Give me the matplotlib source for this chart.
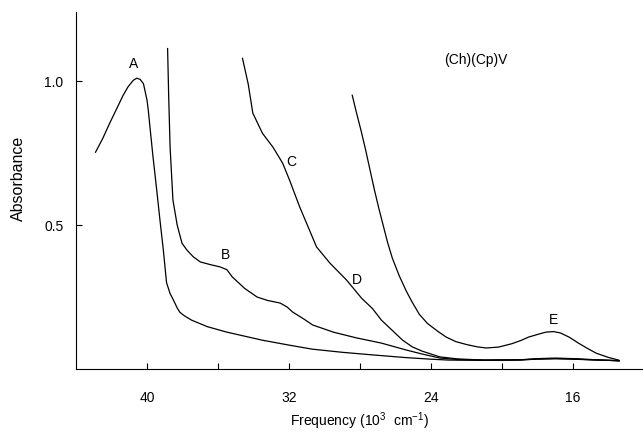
import matplotlib
matplotlib.use("Agg")
import matplotlib.pyplot as plt

plt.rcParams['font.family'] = ['Liberation Sans', 'DejaVu Sans']
plt.rcParams['mathtext.fontset'] = 'custom'
plt.rcParams['mathtext.rm'] = 'Liberation Sans'
plt.rcParams['mathtext.it'] = 'Liberation Sans:italic'

# Curve A
xA = [42.9, 42.5, 42.1, 41.7, 41.35, 41.07, 40.77, 40.58, 40.39, 40.2, 40.0, 39.93, 39.8, 39.66,
      39.45, 39.27, 39.08, 38.9, 38.7, 38.5, 38.3, 38.15, 37.9, 37.5, 36.6,
      35.5, 33.5, 32.0, 30.7, 29.0, 27.3, 25.5, 24.0, 23.0, 21.0, 19.0, 18.0, 17.0, 16.0, 15.0, 14.0, 13.4]
yA = [0.753, 0.80, 0.854, 0.905, 0.950, 0.98, 1.003, 1.01, 1.006, 0.991, 0.934, 0.90, 0.82, 0.736,
      0.62, 0.517, 0.413, 0.30, 0.262, 0.238, 0.212, 0.197, 0.185, 0.170, 0.147,
      0.128, 0.10, 0.083, 0.069, 0.058, 0.049, 0.040, 0.034, 0.031, 0.030, 0.031, 0.035, 0.036, 0.035, 0.032, 0.030, 0.028]

# Curve B
xB = [38.84, 38.78, 38.7, 38.54, 38.3, 38.03, 37.75, 37.4, 37.0, 36.4, 35.9, 35.5, 35.2, 34.5, 33.8,
      33.2, 32.5, 32.1, 31.8, 31.2, 30.67, 29.5, 28.2, 26.8, 25.4, 24.5, 23.5, 22.5, 21.0, 19.0, 18.0,
      17.0, 16.0, 15.0, 14.0, 13.4]
yB = [1.113, 0.95, 0.771, 0.587, 0.50, 0.437, 0.413, 0.39, 0.372, 0.362, 0.355, 0.345, 0.32, 0.28, 0.25,
      0.238, 0.229, 0.215, 0.198, 0.175, 0.153, 0.128, 0.108, 0.09, 0.066, 0.052, 0.038, 0.033, 0.031, 0.032, 0.036,
      0.038, 0.036, 0.033, 0.030, 0.029]

# Curve C/D
xC = [34.62, 34.3, 34.04, 33.5, 32.9, 32.36, 31.97, 31.4, 30.9, 30.45, 29.7, 28.76, 27.9, 27.3, 26.8,
      26.2, 25.6, 25.06, 24.5, 23.5, 22.5, 21.0, 19.0, 17.0, 15.0, 13.4]
yC = [1.079, 0.99, 0.889, 0.819, 0.77, 0.715, 0.656, 0.563, 0.49, 0.424, 0.368, 0.309, 0.245, 0.21, 0.17,
      0.135, 0.10, 0.077, 0.062, 0.042, 0.035, 0.031, 0.032, 0.036, 0.032, 0.029]

# Curve E
xE = [28.44, 28.2, 27.95, 27.7, 27.45, 27.2, 26.95, 26.7, 26.45, 26.18, 25.8, 25.39, 25.06, 24.66, 24.2, 23.6,
      23.15, 22.6, 22.0, 21.4, 20.9, 20.2, 19.44, 18.9, 18.5, 18.0, 17.53, 17.1, 16.7, 16.2, 15.7, 15.2,
      14.7, 14.0, 13.43]
yE = [0.951, 0.89, 0.83, 0.765, 0.695, 0.625, 0.56, 0.50, 0.44, 0.385, 0.325, 0.27, 0.232, 0.19, 0.158, 0.13,
      0.111, 0.095, 0.085, 0.077, 0.073, 0.076, 0.088, 0.10, 0.111, 0.12, 0.128, 0.13, 0.125, 0.11, 0.09, 0.072,
      0.055, 0.04, 0.031]

band_labels = ['A', 'B', 'C', 'D', 'E']
band_x = [40.77, 35.6, 31.85, 28.2, 17.1]
band_y = [1.06, 0.396, 0.719, 0.309, 0.17]

xticks = [40, 36, 32, 28, 24, 20, 16]
xticklabels = ['40', '', '32', '', '24', '', '16']
yticks = [0.5, 1.0]
yticklabels = ['0.5', '1.0']

fig = plt.figure(figsize=(6.43, 4.33), dpi=100)
ax = fig.add_axes([76 / 643, 64 / 433, 1 - 76 / 643, 357 / 433])

for xs, ys in [(xA, yA), (xB, yB), (xC, yC), (xE, yE)]:
    ax.plot(xs, ys, color='black', lw=0.9)

for lab, lx, ly in zip(band_labels, band_x, band_y):
    ax.text(lx, ly, lab, fontsize=10, ha='center', va='center')

ax.text(21.46, 1.073, '(Ch)(Cp)V', fontsize=10, ha='center', va='center')

ax.set_xlim(44.0, 12.06)
ax.set_ylim(0.0, 1.24)
ax.set_xticks(xticks)
ax.set_xticklabels(xticklabels)
ax.set_yticks(yticks)
ax.set_yticklabels(yticklabels)
ax.tick_params(axis='x', direction='in', length=4, width=0.8, pad=16, labelsize=10)
ax.tick_params(axis='y', direction='in', length=4, width=0.8, pad=9, labelsize=10)

for s in ['top', 'right']:
    ax.spines[s].set_visible(False)
for s in ['left', 'bottom']:
    ax.spines[s].set_linewidth(0.8)

ax.set_xlabel('Frequency (10$^3$  cm$^{-1}$)', fontsize=10)
ax.xaxis.set_label_coords(0.5, -0.115)
ax.set_ylabel('Absorbance', fontsize=11.5)
ax.yaxis.set_label_coords(-0.088, 0.534)

fig.savefig('out.png', dpi=100)
